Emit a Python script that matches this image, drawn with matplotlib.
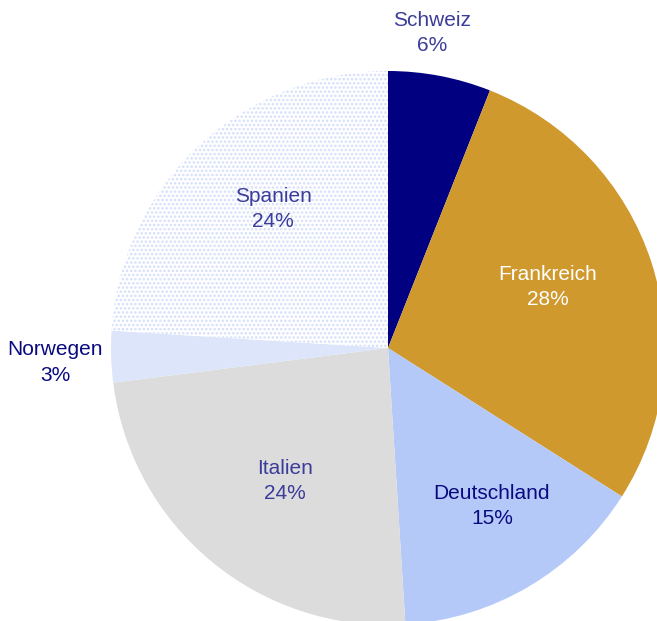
import matplotlib.pyplot as plt

plt.rcParams['font.family'] = ['Liberation Sans', 'DejaVu Sans']
plt.rcParams['hatch.linewidth'] = 1.2

countries = ['Schweiz', 'Frankreich', 'Deutschland', 'Italien', 'Norwegen', 'Spanien']
shares = [6, 28, 15, 24, 3, 24]

colors = ['#000080', '#cf992e', '#b5c9f8', '#dcdcdc', '#dce5fa', '#ffffff']
text_colors = ['#3c3c9a', '#ffffff', '#0a0a80', '#3c3c9a', '#0a0a80', '#3c3c9a']
# label centres in pie radius units
label_pos = [(0.159, 1.137), (0.578, 0.220), (0.375, -0.570),
             (-0.372, -0.480), (-1.202, -0.051), (-0.415, 0.502)]

fig = plt.figure(figsize=(6.57, 6.21), dpi=100)
cx, cy, r = 388, 621 - 348, 277
ax = fig.add_axes([(cx - r) / 657, (cy - r) / 621, 2 * r / 657, 2 * r / 621])

wedges, _ = ax.pie(shares, colors=colors, startangle=90, counterclock=False,
                   wedgeprops=dict(linewidth=0))
ax.set_xlim(-1, 1)
ax.set_ylim(-1, 1)
ax.set_aspect('auto')

# dotted fill for Spanien
wedges[5].set_hatch('....')
wedges[5].set_edgecolor('#d3def9')
wedges[5].set_linewidth(0)

for (x, y), name, val, tc in zip(label_pos, countries, shares, text_colors):
    ax.text(x, y, f'{name}\n{val}%', ha='center', va='center', fontsize=15,
            color=tc, linespacing=1.45, clip_on=False)

ax.axis('off')
fig.savefig('out.png', dpi=100)
